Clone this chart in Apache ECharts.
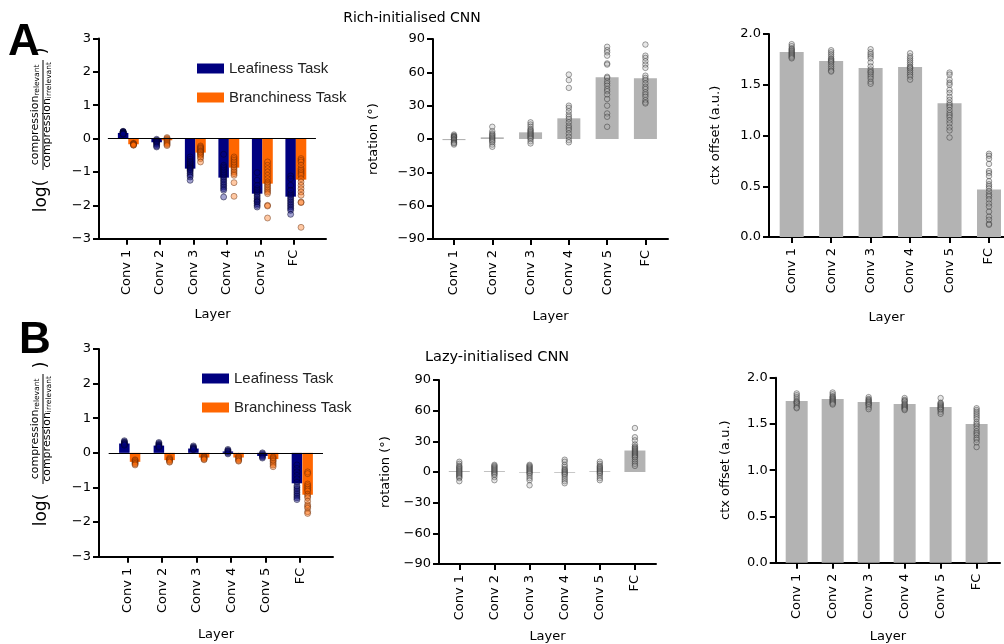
<!DOCTYPE html>
<html>
<head>
<meta charset="utf-8">
<script src="https://cdn.jsdelivr.net/npm/echarts@6/dist/echarts.min.js"></script>
<style>
  html, body { margin: 0; padding: 0; background: #fff; }
  #chart { width: 1004px; height: 644px; }
</style>
</head>
<body>
<div id="chart"></div>
<script>
// ---- data ----
const layers = ['Conv 1', 'Conv 2', 'Conv 3', 'Conv 4', 'Conv 5', 'FC'];
const taskNames = ['Leafiness Task', 'Branchiness Task'];

// A: rich-initialised CNN
const richLeafMean = [0.17, -0.11, -0.90, -1.17, -1.65, -1.74];
const richBranchMean = [-0.17, -0.05, -0.42, -0.87, -1.35, -1.23];
const richLeafRuns = [
    [0.22, 0.21, 0.2, 0.19, 0.18, 0.17, 0.16, 0.15, 0.14, 0.13],
    [-0.02, -0.05, -0.08, -0.1, -0.12, -0.15, -0.18, -0.22, -0.25],
    [-0.55, -0.62, -0.68, -0.72, -0.76, -0.8, -0.83, -0.86, -0.88, -0.9, -0.93, -0.96, -1.0, -1.05, -1.1, -1.15, -1.25],
    [-0.47, -0.8, -0.85, -0.9, -0.95, -1.0, -1.05, -1.1, -1.15, -1.2, -1.25, -1.3, -1.35, -1.4, -1.45, -1.5, -1.55, -1.75],
    [-1.02, -1.25, -1.4, -1.5, -1.55, -1.6, -1.65, -1.7, -1.75, -1.8, -1.85, -1.88, -1.9, -1.95, -2.0, -2.05],
    [-1.12, -1.2, -1.4, -1.55, -1.65, -1.7, -1.75, -1.8, -1.85, -1.9, -1.95, -2.0, -2.05, -2.1, -2.15, -2.27]
];
const richBranchRuns = [
    [-0.14, -0.15, -0.16, -0.17, -0.18, -0.19, -0.2],
    [0.03, 0.0, -0.03, -0.06, -0.09, -0.12, -0.15, -0.18, -0.21],
    [-0.22, -0.25, -0.28, -0.3, -0.33, -0.36, -0.38, -0.4, -0.42, -0.45, -0.48, -0.5, -0.55, -0.6, -0.7],
    [-0.55, -0.6, -0.65, -0.7, -0.75, -0.8, -0.85, -0.9, -0.95, -1.0, -1.05, -1.1, -1.32, -1.73],
    [-0.7, -0.8, -0.9, -1.0, -1.1, -1.2, -1.3, -1.35, -1.4, -1.45, -1.5, -1.55, -1.6, -1.65, -2.0, -2.02, -2.38],
    [-0.6, -0.65, -0.7, -0.8, -0.9, -0.95, -1.0, -1.05, -1.1, -1.2, -1.3, -1.4, -1.5, -1.6, -1.7, -1.9, -1.92, -2.66]
];
const richRotMean = [-1, 1.5, 6, 18.6, 55.5, 54.6];
const richRotRuns = [
    [4, 3, 2.5, 2, 1.5, 1, 0, -0.5, -1, -2, -3, -3.5, -4, -5],
    [11, 7, 5, 4, 3, 2, 1, 0, -1, -2, -3, -5, -7],
    [15, 13, 11, 9, 8, 7, 6, 5, 4, 3, 2, 1, 0, -2, -4],
    [58, 53, 46, 30, 28, 25, 22, 20, 18, 15, 12, 10, 8, 5, 2, -1, -3],
    [83, 80, 78, 75, 68, 67, 56, 55, 52, 50, 48, 45, 43, 40, 36, 30, 23, 20, 11],
    [85, 75, 73, 70, 67, 64, 57, 55, 53, 50, 47, 45, 42, 40, 38, 35, 33, 32]
];
const richCtxMean = [1.822, 1.733, 1.664, 1.674, 1.318, 0.468];
const richCtxRuns = [
    [1.9, 1.88, 1.86, 1.85, 1.84, 1.83, 1.82, 1.81, 1.8, 1.79, 1.78, 1.77, 1.76],
    [1.84, 1.82, 1.8, 1.78, 1.76, 1.75, 1.74, 1.73, 1.72, 1.7, 1.68, 1.66, 1.64, 1.63],
    [1.85, 1.82, 1.8, 1.78, 1.76, 1.72, 1.68, 1.65, 1.63, 1.62, 1.6, 1.58, 1.56, 1.53, 1.51],
    [1.81, 1.78, 1.76, 1.74, 1.72, 1.7, 1.68, 1.67, 1.66, 1.64, 1.62, 1.6, 1.58, 1.55],
    [1.62, 1.6, 1.55, 1.52, 1.5, 1.45, 1.42, 1.38, 1.35, 1.32, 1.3, 1.28, 1.25, 1.22, 1.2, 1.18, 1.15, 1.12, 1.08, 1.05, 0.98],
    [0.82, 0.8, 0.77, 0.72, 0.65, 0.63, 0.6, 0.55, 0.52, 0.5, 0.48, 0.45, 0.42, 0.4, 0.37, 0.33, 0.3, 0.25, 0.2, 0.17, 0.13, 0.12]
];

// B: lazy-initialised CNN
const lazyLeafMean = [0.27, 0.21, 0.125, 0.04, -0.09, -0.88];
const lazyBranchMean = [-0.26, -0.21, -0.135, -0.135, -0.18, -1.21];
const lazyLeafRuns = [
    [0.35, 0.32, 0.3, 0.28, 0.26, 0.24, 0.22],
    [0.3, 0.27, 0.24, 0.22, 0.2, 0.18, 0.16],
    [0.2, 0.17, 0.15, 0.13, 0.11, 0.09],
    [0.1, 0.07, 0.05, 0.03, 0.0, -0.03],
    [0.0, -0.03, -0.06, -0.09, -0.12, -0.15],
    [-0.35, -0.45, -0.55, -0.65, -0.75, -0.85, -0.95, -1.0, -1.05, -1.1, -1.15, -1.2, -1.25, -1.3, -1.35]
];
const lazyBranchRuns = [
    [-0.2, -0.22, -0.25, -0.27, -0.3, -0.32, -0.35],
    [-0.15, -0.18, -0.2, -0.22, -0.25, -0.27],
    [-0.1, -0.12, -0.14, -0.16, -0.18, -0.2],
    [-0.1, -0.13, -0.16, -0.19, -0.22, -0.24],
    [-0.12, -0.15, -0.18, -0.22, -0.25, -0.3, -0.35, -0.4],
    [-0.55, -0.6, -0.9, -0.95, -1.0, -1.05, -1.1, -1.2, -1.25, -1.3, -1.4, -1.5, -1.55, -1.6, -1.7, -1.75]
];
const lazyRotMean = [0.9, 0.8, -0.6, -0.7, 0.7, 21];
const lazyRotRuns = [
    [10, 8, 6, 5, 4, 3, 2, 1, 0, -1, -2, -3, -4, -5, -6, -9],
    [7, 6, 5, 4, 3, 2, 1, 0, -1, -2, -3, -5, -8],
    [7, 6, 5, 4, 3, 2, 1, 0, -1, -2, -4, -6, -8, -13],
    [12, 10, 7, 5, 3, 2, 1, 0, -1, -2, -3, -5, -7, -9, -11],
    [10, 8, 6, 5, 4, 3, 2, 1, 0, -1, -2, -4, -6, -8],
    [43, 34, 31, 27, 25, 24, 23, 22, 21, 20, 19, 18, 17, 16, 15, 14, 12, 10, 8, 6]
];
const lazyCtxMean = [1.748, 1.769, 1.737, 1.715, 1.683, 1.499];
const lazyCtxRuns = [
    [1.83, 1.81, 1.79, 1.77, 1.75, 1.74, 1.73, 1.72, 1.7, 1.68, 1.67],
    [1.84, 1.82, 1.8, 1.79, 1.78, 1.77, 1.76, 1.75, 1.74, 1.73, 1.72, 1.71],
    [1.79, 1.77, 1.76, 1.75, 1.74, 1.73, 1.72, 1.71, 1.7, 1.68, 1.66],
    [1.78, 1.76, 1.75, 1.74, 1.72, 1.71, 1.7, 1.69, 1.68, 1.67, 1.66, 1.65],
    [1.78, 1.73, 1.72, 1.71, 1.7, 1.69, 1.68, 1.67, 1.66, 1.65, 1.63, 1.61],
    [1.67, 1.65, 1.63, 1.61, 1.59, 1.57, 1.55, 1.52, 1.5, 1.48, 1.45, 1.42, 1.4, 1.38, 1.35, 1.33, 1.3, 1.25]
];

// ---- styling ----
const FONT = 'DejaVu Sans';
const NAVY = '#000080';
const ORANGE = '#ff6600';
const GREY = '#b3b3b3';
const LEAF_SHIFT = -0.095;
const BRANCH_SHIFT = 0.215;
const tickPos = layers.map((_, i) => i);

const blueDot = { color: 'rgba(0,0,128,0.45)', borderColor: 'rgba(0,0,40,0.6)', borderWidth: 1 };
const orangeDot = { color: 'rgba(255,102,0,0.45)', borderColor: 'rgba(90,35,0,0.55)', borderWidth: 1 };
const greyDot = { color: 'rgba(170,170,170,0.35)', borderColor: 'rgba(40,40,40,0.55)', borderWidth: 1 };

function barData(means, shift) {
    return means.map((v, i) => [i + shift, v]);
}
function runData(runs, shift) {
    const out = [];
    runs.forEach((vals, i) => vals.forEach(v => out.push([i + shift, v])));
    return out;
}
function minus(v) {
    return v < 0 ? '\u2212' + Math.abs(v) : String(v);
}

function layerAxis(g, min, max, nameGap) {
    return {
        type: 'value', gridIndex: g, min: min, max: max,
        name: 'Layer', nameLocation: 'middle', nameGap: nameGap,
        nameTextStyle: { fontFamily: FONT, fontSize: 13, color: '#000' },
        splitLine: { show: false },
        axisLine: { show: true, onZero: false, lineStyle: { color: '#000', width: 2 } },
        axisTick: { show: true, customValues: tickPos, length: 6, lineStyle: { color: '#000', width: 2 } },
        axisLabel: {
            customValues: tickPos, rotate: 90, margin: 11,
            fontFamily: FONT, fontSize: 13, color: '#000',
            formatter: v => layers[Math.round(v)]
        }
    };
}
function valueAxis(g, min, max, interval, name, nameGap, fmt) {
    return {
        type: 'value', gridIndex: g, min: min, max: max, interval: interval,
        name: name, nameLocation: 'middle', nameGap: nameGap, nameRotate: 90,
        nameTextStyle: { fontFamily: FONT, fontSize: 13, color: '#000' },
        splitLine: { show: false },
        axisLine: { show: true, onZero: false, lineStyle: { color: '#000', width: 2 } },
        axisTick: { show: true, length: 6, lineStyle: { color: '#000', width: 2 } },
        axisLabel: { margin: 8, fontFamily: FONT, fontSize: 13, color: '#000', formatter: fmt || minus }
    };
}

function zeroLine(x0, x1) {
    return {
        silent: true, symbol: 'none', label: { show: false },
        lineStyle: { color: '#000', width: 1.2, type: 'solid' },
        emphasis: { disabled: true },
        data: [[{ coord: [x0, 0] }, { coord: [x1, 0] }]]
    };
}

function compressionPanel(g, leafMean, branchMean, leafRuns, branchRuns, tag) {
    return [
        {
            name: taskNames[0], type: 'bar', xAxisIndex: g, yAxisIndex: g,
            data: barData(leafMean, LEAF_SHIFT), barWidth: 10.5, barGap: '-100%',
            itemStyle: { color: NAVY }, markLine: zeroLine(-0.55, 5.66)
        },
        {
            name: taskNames[1], type: 'bar', xAxisIndex: g, yAxisIndex: g,
            data: barData(branchMean, BRANCH_SHIFT), barWidth: 10.5, barGap: '-100%',
            itemStyle: { color: ORANGE }
        },
        {
            name: 'Leafiness runs ' + tag, type: 'scatter', xAxisIndex: g, yAxisIndex: g,
            data: runData(leafRuns, LEAF_SHIFT), symbolSize: 6, itemStyle: blueDot, z: 3
        },
        {
            name: 'Branchiness runs ' + tag, type: 'scatter', xAxisIndex: g, yAxisIndex: g,
            data: runData(branchRuns, BRANCH_SHIFT), symbolSize: 6, itemStyle: orangeDot, z: 3
        }
    ];
}
function greyPanel(g, means, runs, barWidth, tag) {
    return [
        {
            name: tag + ' mean', type: 'bar', xAxisIndex: g, yAxisIndex: g,
            data: barData(means, 0), barWidth: barWidth, itemStyle: { color: GREY }
        },
        {
            name: tag + ' runs', type: 'scatter', xAxisIndex: g, yAxisIndex: g,
            data: runData(runs, 0), symbolSize: 5.5, itemStyle: greyDot, z: 3
        }
    ];
}

// y label log(compression_relevant / compression_irrelevant), drawn as rotated text
function fracLabel(cx, cy) {
    const rich = {
        m: { fontFamily: FONT, fontSize: 11, lineHeight: 12, verticalAlign: 'top', color: '#000' },
        s: { fontFamily: FONT, fontSize: 7.5, lineHeight: 8, padding: [6, 0, 0, 0], verticalAlign: 'bottom', color: '#000' }
    };
    return {
        type: 'group', x: cx, y: cy, rotation: Math.PI / 2, silent: true,
        children: [
            { type: 'text', x: -65, y: -1, style: { text: 'log(', font: '17px "DejaVu Sans"', fill: '#000', align: 'center', verticalAlign: 'middle' } },
            { type: 'text', x: 16, y: -13.5, style: { text: '{m|compression}{s|relevant}', rich: rich, align: 'center', verticalAlign: 'top' } },
            { type: 'rect', shape: { x: 16 - 55, y: -0.5, width: 110, height: 1 }, style: { fill: '#000' } },
            { type: 'text', x: 16, y: -1.5, style: { text: '{m|compression}{s|irrelevant}', rich: rich, align: 'center', verticalAlign: 'top' } },
            { type: 'text', x: 80, y: -1, style: { text: ')', font: '17px "DejaVu Sans"', fill: '#000', align: 'center', verticalAlign: 'middle' } }
        ]
    };
}
function plainText(x, y, text, font) {
    return {
        type: 'text', x: x, y: y, silent: true,
        style: { text: text, font: font, fill: '#000', align: 'center', verticalAlign: 'middle' }
    };
}

const legendBase = {
    data: taskNames, orient: 'vertical', icon: 'rect', selectedMode: false,
    itemWidth: 27, itemHeight: 10, itemGap: 14,
    textStyle: { fontFamily: 'Liberation Sans', fontSize: 15, color: '#222' }
};

const chart = echarts.init(document.getElementById('chart'), null, { renderer: 'canvas' });

const option = {
    animation: false,
    backgroundColor: '#fff',
    grid: [
        { left: 99, top: 38.5, width: 227, height: 200.2 },
        { left: 433, top: 39, width: 235, height: 200 },
        { left: 769, top: 34, width: 235, height: 203 },
        { left: 99, top: 349, width: 234, height: 207.7 },
        { left: 439, top: 380, width: 217, height: 185.3 },
        { left: 775.7, top: 377.7, width: 224.3, height: 185 }
    ],
    xAxis: [
        layerAxis(0, -0.815, 5.96, 69),
        layerAxis(1, -0.548, 5.59, 71),
        layerAxis(2, -0.575, 5.38, 74),
        layerAxis(3, -0.83, 5.95, 71),
        layerAxis(4, -0.578, 5.6, 66),
        layerAxis(5, -0.583, 5.65, 67)
    ],
    yAxis: [
        valueAxis(0, -3, 3, 1, '', 0),
        valueAxis(1, -90, 90, 30, 'rotation (°)', 53),
        valueAxis(2, 0, 2, 0.5, 'ctx offset (a.u.)', 47, v => v.toFixed(1)),
        valueAxis(3, -3, 3, 1, '', 0),
        valueAxis(4, -90, 90, 30, 'rotation (°)', 47),
        valueAxis(5, 0, 2, 0.5, 'ctx offset (a.u.)', 44, v => v.toFixed(1))
    ],
    legend: [
        Object.assign({ left: 192, top: 56 }, legendBase),
        Object.assign({ left: 197, top: 366 }, legendBase)
    ],
    graphic: [
        plainText(412, 18, 'Rich-initialised CNN', '14px "DejaVu Sans"'),
        plainText(497, 357, 'Lazy-initialised CNN', '14.5px "DejaVu Sans"'),
        { type: 'text', x: 8, y: 43, silent: true, style: { text: 'A', font: 'bold 44px "Liberation Sans"', fill: '#000', align: 'left', verticalAlign: 'middle' } },
        { type: 'text', x: 19, y: 341, silent: true, style: { text: 'B', font: 'bold 44px "Liberation Sans"', fill: '#000', align: 'left', verticalAlign: 'middle' } },
        fracLabel(43, 131),
        fracLabel(43, 445)
    ],
    series: [].concat(
        compressionPanel(0, richLeafMean, richBranchMean, richLeafRuns, richBranchRuns, '(rich)'),
        greyPanel(1, richRotMean, richRotRuns, 23, 'Rich rotation'),
        greyPanel(2, richCtxMean, richCtxRuns, 24, 'Rich ctx offset'),
        compressionPanel(3, lazyLeafMean, lazyBranchMean, lazyLeafRuns, lazyBranchRuns, '(lazy)'),
        greyPanel(4, lazyRotMean, lazyRotRuns, 21, 'Lazy rotation'),
        greyPanel(5, lazyCtxMean, lazyCtxRuns, 22, 'Lazy ctx offset')
    )
};

chart.setOption(option);
</script>
</body>
</html>
